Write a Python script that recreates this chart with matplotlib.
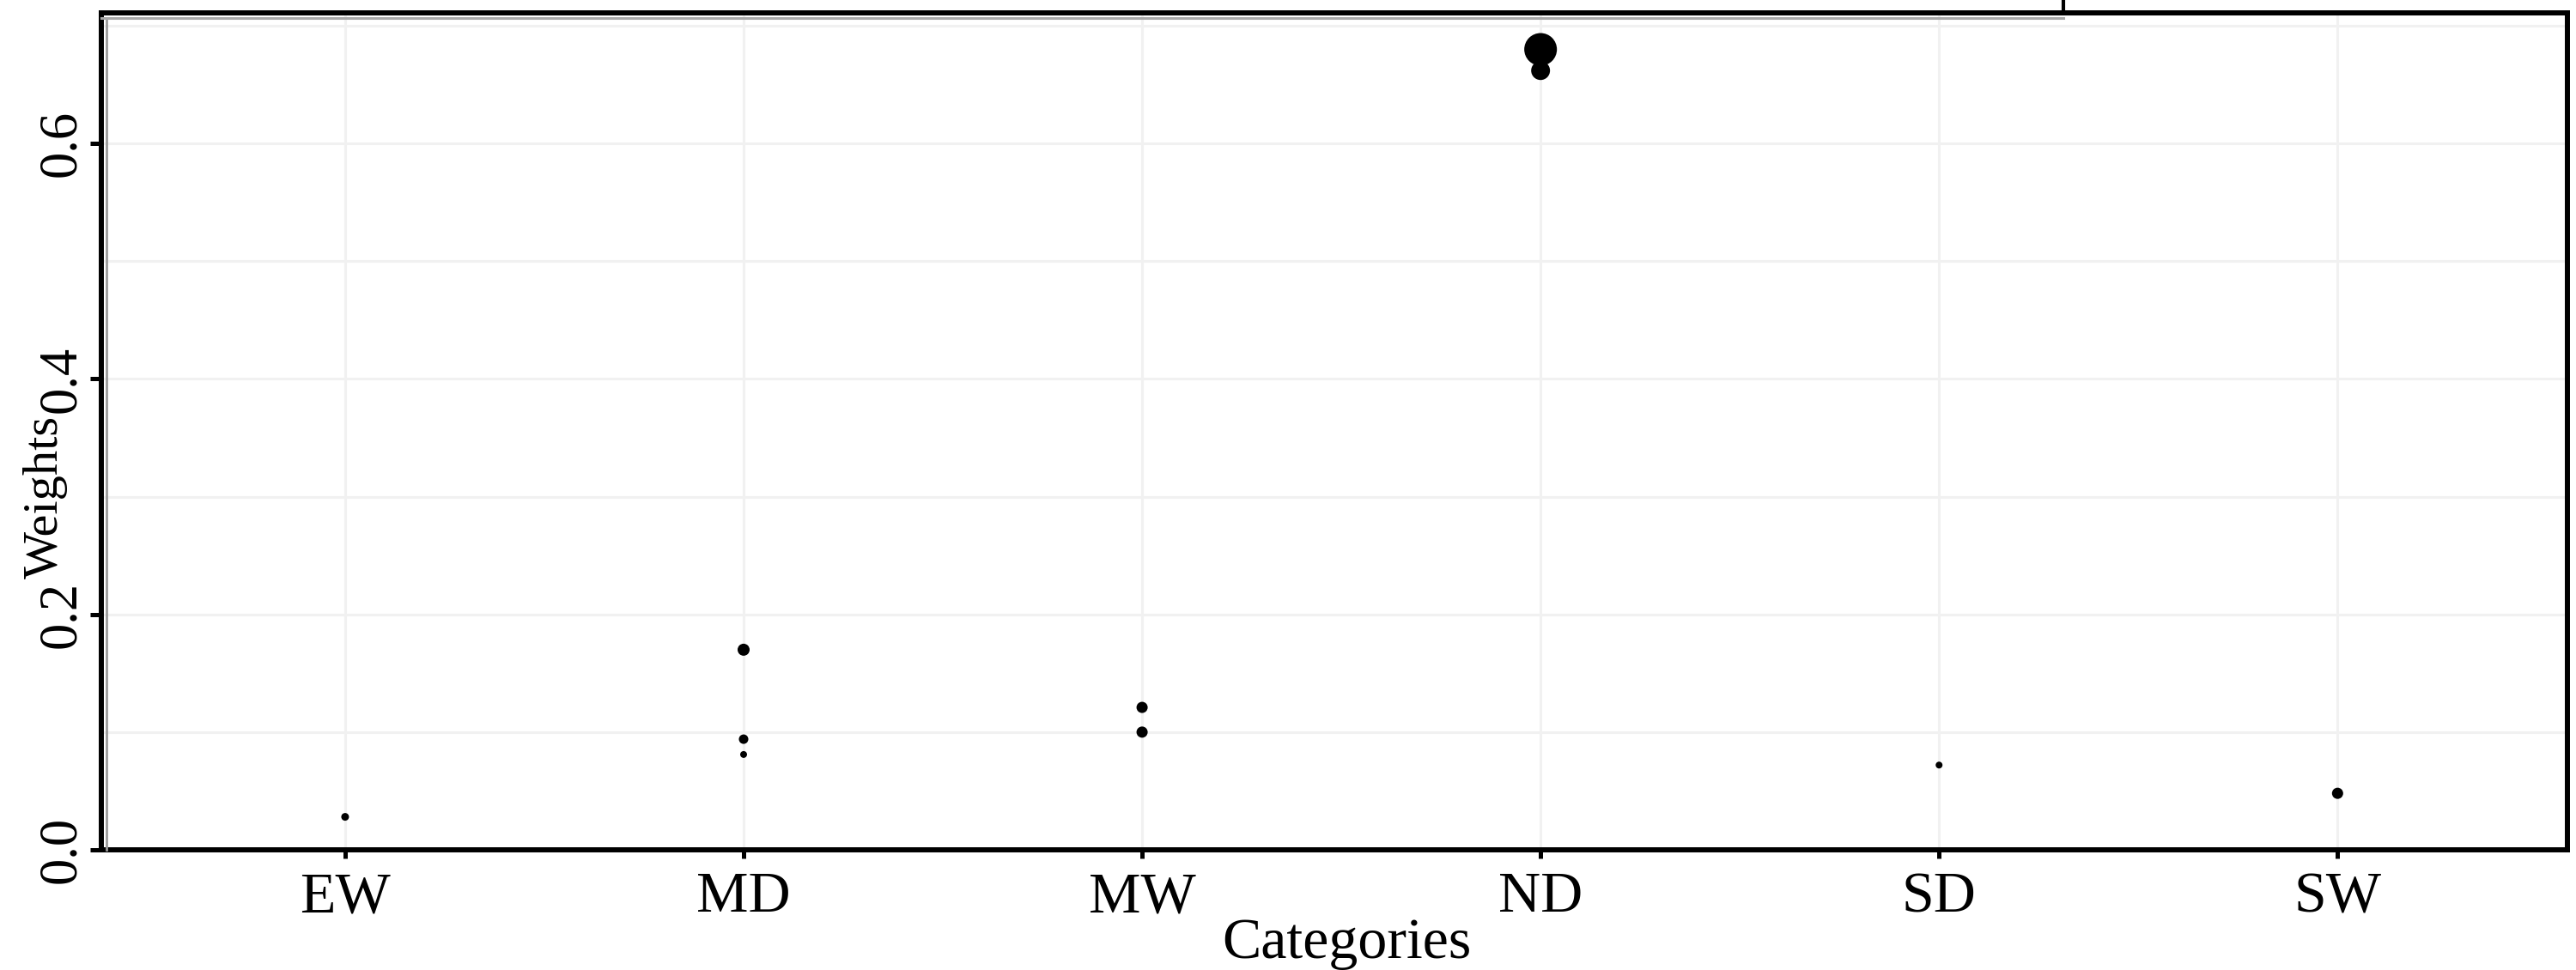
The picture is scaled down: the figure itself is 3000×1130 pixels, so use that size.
import matplotlib

matplotlib.use("Agg")
import matplotlib.pyplot as plt

# category order on the x axis
categories = ["EW", "MD", "MW", "ND", "SD", "SW"]

# one entry per point
point_category = ["EW", "MD", "MD", "MD", "MW", "MW", "ND", "ND", "SD", "SW"]
point_weight = [0.028, 0.170, 0.094, 0.081, 0.121, 0.100, 0.680, 0.662, 0.072, 0.048]
point_size = [42, 102, 63, 33, 88, 88, 750, 250, 33, 88]

y_ticks = [0.0, 0.2, 0.4, 0.6]
y_tick_labels = ["0.0", "0.2", "0.4", "0.6"]
y_minor = [0.1, 0.3, 0.5, 0.7]

plt.rcParams["font.family"] = ["Liberation Serif", "DejaVu Serif"]

fig = plt.figure(figsize=(30, 11.3), dpi=100)
ax = fig.add_axes([0.0393, 0.1239, 0.9574, 0.8628])

xpos = [categories.index(c) for c in point_category]
ax.scatter(xpos, point_weight, s=point_size, color="black", linewidths=0, zorder=3)

ax.set_xlim(-0.612, 5.577)
ax.set_ylim(0.0, 0.711)

ax.set_xticks(range(len(categories)))
ax.set_xticklabels(categories, fontsize=49)
ax.set_yticks(y_ticks)
ax.set_yticklabels(y_tick_labels, fontsize=45, rotation=90, va="center")
ax.set_yticks(y_minor, minor=True)

grid_color = "#f1f1f1"
ax.grid(True, which="major", color=grid_color, linewidth=2.2, zorder=0)
ax.grid(True, which="minor", axis="y", color=grid_color, linewidth=2.2, zorder=0)
ax.set_axisbelow(True)

ax.tick_params(axis="x", which="major", length=7.2, width=3.6, pad=11, color="black")
ax.tick_params(axis="y", which="major", length=9.4, width=3.6, pad=3, color="black")
ax.tick_params(axis="y", which="minor", length=0)

for side in ["left", "right", "top", "bottom"]:
    ax.spines[side].set_linewidth(4.3)
    ax.spines[side].set_color("black")

# faint grey shadow just inside the left and top frame lines
ax.plot([0.002, 0.002], [0.0, 0.994], transform=ax.transAxes,
        color="#9a9a9a", linewidth=2.0, zorder=4, clip_on=False)
ax.plot([0.0, 0.7956], [0.994, 0.994], transform=ax.transAxes,
        color="#a8a8a8", linewidth=2.2, zorder=4, clip_on=False)
# short stub rising above the frame
ax.plot([0.7956, 0.7956], [1.0, 1.016], transform=ax.transAxes,
        color="black", linewidth=3.0, zorder=4, clip_on=False)

ax.set_xlabel("Categories", fontsize=49)
ax.xaxis.set_label_coords(0.505, -0.081)
ax.set_ylabel("Weights", fontsize=42)
ax.yaxis.set_label_coords(-0.0135, 0.422)

fig.savefig("out.png", dpi=100, facecolor="white")
